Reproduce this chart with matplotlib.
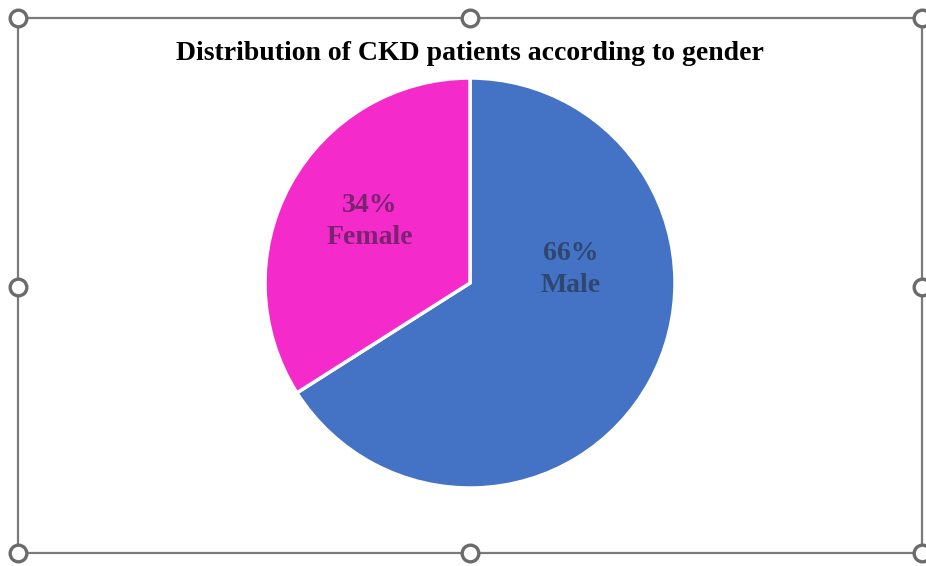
import matplotlib.pyplot as plt
from matplotlib.lines import Line2D
from matplotlib.patches import Rectangle

# data
genders = ["Male", "Female"]
shares = [66, 34]
colors = ["#4472C4", "#F42BCA"]
label_colors = ["#2F4770", "#7A2370"]
# label centres in pie units (radius = 1)
label_pos = [(0.49, 0.065), (-0.49, 0.30)]

plt.rcParams['font.family'] = ['Liberation Serif', 'DejaVu Serif']

fig = plt.figure(figsize=(9.26, 5.66), dpi=100)
W, H = 926, 566

# selection frame like in the office screenshot
x0, x1, y0, y1 = 18, 922, 18, 553
fig.add_artist(Rectangle((x0 / W, 1 - y1 / H), (x1 - x0) / W, (y1 - y0) / H,
                         transform=fig.transFigure, fill=False,
                         edgecolor="#7a7a7a", linewidth=1.6))
for hx in (x0, 470, x1):
    for hy in (y0, 287, y1):
        if hx == 470 and hy == 287:
            continue
        fig.add_artist(Line2D([hx / W], [1 - hy / H], marker='o', markersize=12,
                              markerfacecolor="white", markeredgecolor="#6b6b6b",
                              markeredgewidth=2.4, transform=fig.transFigure))

fig.text(470 / W, 1 - 53 / H, "Distribution of CKD patients according to gender",
         ha="center", va="center", fontsize=20, fontweight="bold")

cx, cy, r = 470, 283, 205
ax = fig.add_axes([(cx - r) / W, 1 - (cy + r) / H, 2 * r / W, 2 * r / H])
ax.pie(shares, colors=colors, startangle=90, counterclock=False,
       wedgeprops=dict(edgecolor="white", linewidth=2.5))
ax.set_xlim(-1, 1)
ax.set_ylim(-1, 1)
ax.set_aspect("equal")
ax.axis("off")

for name, val, (lx, ly), c in zip(genders, shares, label_pos, label_colors):
    ax.text(lx, ly, f"{val}%\n{name}", ha="center", va="center",
            fontsize=20, fontweight="bold", color=c, linespacing=1.4)

fig.savefig("out.png", dpi=100)
